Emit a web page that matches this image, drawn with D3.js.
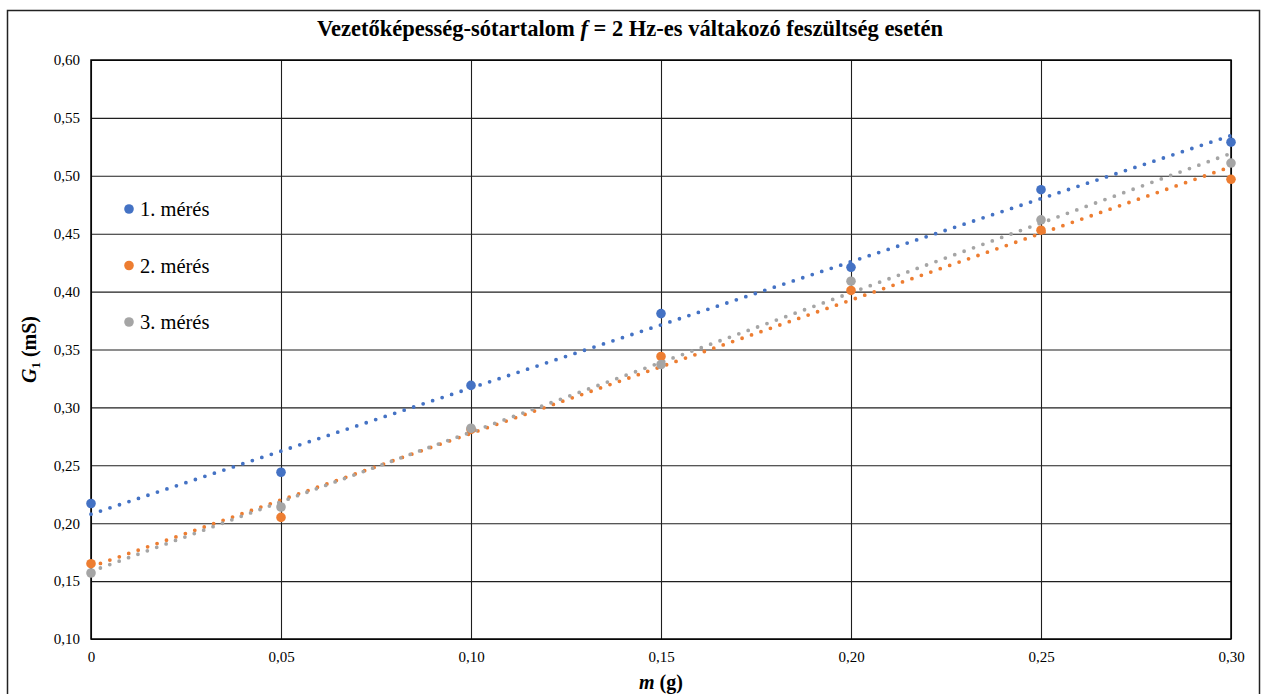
<!DOCTYPE html>
<html>
<head>
<meta charset="utf-8">
<script src="https://cdn.jsdelivr.net/npm/d3@7"></script>
<style>
  body { margin: 0; background: #fff; }
  svg text { font-family: "Liberation Serif", "Times New Roman", "DejaVu Serif", serif !important; fill: #000; }
</style>
</head>
<body>
<div id="chart"></div>
<script>
// data
var masses = [0, 0.05, 0.10, 0.15, 0.20, 0.25, 0.30];
var meres1 = [0.217, 0.244, 0.319, 0.381, 0.421, 0.488, 0.529];
var meres2 = [0.165, 0.205, 0.281, 0.344, 0.401, 0.453, 0.497];
var meres3 = [0.157, 0.214, 0.282, 0.337, 0.409, 0.462, 0.511];
var seriesNames = ["1. mérés", "2. mérés", "3. mérés"];
var seriesColors = ["#4472C4", "#ED7D31", "#A5A5A5"];
var xTicks = [0, 0.05, 0.10, 0.15, 0.20, 0.25, 0.30];
var yTicks = [0.10, 0.15, 0.20, 0.25, 0.30, 0.35, 0.40, 0.45, 0.50, 0.55, 0.60];

var svgWidth = 1261;
var svgHeight = 694;

var margin = { top: 60, right: 30, bottom: 55, left: 91 };
var width = svgWidth - margin.left - margin.right;
var height = svgHeight - margin.top - margin.bottom;

var svg = d3.select("#chart")
  .append("svg")
  .attr("width", svgWidth)
  .attr("height", svgHeight);

// outer frame
svg.append("rect")
  .attr("x", 7.5)
  .attr("y", 10.5)
  .attr("width", 1252)
  .attr("height", 700)
  .attr("fill", "none")
  .attr("stroke", "#222")
  .attr("stroke-width", 1.5);

var chartGroup = svg.append("g")
  .attr("transform", `translate(${margin.left}, ${margin.top})`);

var xScale = d3.scaleLinear().domain([0, 0.30]).range([0, width]);
var yScale = d3.scaleLinear().domain([0.10, 0.60]).range([height, 0]);

var locale = d3.formatLocale({ decimal: ",", thousands: " ", grouping: [3], currency: ["", ""] });
var fmt2 = locale.format(".2f");

// gridlines
chartGroup.append("g")
  .call(d3.axisLeft(yScale).tickValues(yTicks).tickSize(-width).tickFormat(""))
  .call(g => g.select(".domain").remove())
  .selectAll("line").attr("stroke", "#1f1f1f").attr("stroke-width", 1.1);

chartGroup.append("g")
  .attr("transform", `translate(0, ${height})`)
  .call(d3.axisBottom(xScale).tickValues(xTicks).tickSize(-height).tickFormat(""))
  .call(g => g.select(".domain").remove())
  .selectAll("line").attr("stroke", "#1f1f1f").attr("stroke-width", 1.1);

// plot border
chartGroup.append("rect")
  .attr("width", width)
  .attr("height", height)
  .attr("fill", "none")
  .attr("stroke", "#000")
  .attr("stroke-width", 1.5);

// tick labels
var yAxis = chartGroup.append("g")
  .call(d3.axisLeft(yScale).tickValues(yTicks).tickSize(0).tickPadding(11).tickFormat(fmt2));
yAxis.attr("font-family", null).attr("font-size", null);
yAxis.select(".domain").remove();
yAxis.selectAll("text").style("font-size", "15px");

var xAxis = chartGroup.append("g")
  .attr("transform", `translate(0, ${height})`)
  .call(d3.axisBottom(xScale).tickValues(xTicks).tickSize(0).tickPadding(12)
    .tickFormat(d => d === 0 ? "0" : fmt2(d)));
xAxis.attr("font-family", null).attr("font-size", null);
xAxis.select(".domain").remove();
xAxis.selectAll("text").style("font-size", "15px");

var series = [meres1, meres2, meres3].map(function(vals, i) {
  return {
    name: seriesNames[i],
    color: seriesColors[i],
    points: vals.map((v, j) => ({ x: masses[j], y: v }))
  };
});

// linear trendlines (least squares)
function linReg(points) {
  var mx = d3.mean(points, d => d.x);
  var my = d3.mean(points, d => d.y);
  var sxy = d3.sum(points, d => (d.x - mx) * (d.y - my));
  var sxx = d3.sum(points, d => (d.x - mx) * (d.x - mx));
  var slope = sxy / sxx;
  return { slope: slope, intercept: my - slope * mx };
}

var line = d3.line().x(d => xScale(d.x)).y(d => yScale(d.y));

series.forEach(function(s) {
  var r = linReg(s.points);
  var ends = xScale.domain().map(x => ({ x: x, y: r.intercept + r.slope * x }));
  chartGroup.append("path")
    .datum(ends)
    .attr("d", line)
    .attr("fill", "none")
    .attr("stroke", s.color)
    .attr("stroke-width", 3.8)
    .attr("stroke-linecap", "round")
    .attr("stroke-dasharray", "0 10");
});

series.forEach(function(s) {
  chartGroup.append("g")
    .selectAll("circle")
    .data(s.points)
    .enter()
    .append("circle")
    .attr("cx", d => xScale(d.x))
    .attr("cy", d => yScale(d.y))
    .attr("r", 4.8)
    .attr("fill", s.color);
});

// legend
var legend = chartGroup.append("g")
  .attr("transform", "translate(38, 149)");
series.forEach(function(s, i) {
  var row = legend.append("g").attr("transform", `translate(0, ${i * 56.5})`);
  row.append("circle").attr("r", 4.8).attr("fill", s.color);
  row.append("text")
    .attr("x", 11)
    .attr("dy", "0.35em")
    .style("font-size", "20.5px")
    .text(s.name);
});

// title
var title = svg.append("text")
  .attr("x", 630)
  .attr("y", 36)
  .attr("text-anchor", "middle")
  .style("font-size", "22.5px")
  .style("font-weight", "bold");
title.append("tspan").text("Vezetőképesség-sótartalom ");
title.append("tspan").style("font-style", "italic").text("f");
title.append("tspan").text(" = 2 Hz-es váltakozó feszültség esetén");

// x axis title
var xTitle = svg.append("text")
  .attr("x", margin.left + width / 2)
  .attr("y", 689)
  .attr("text-anchor", "middle")
  .style("font-size", "20px")
  .style("font-weight", "bold");
xTitle.append("tspan").style("font-style", "italic").text("m");
xTitle.append("tspan").text(" (g)");

// y axis title
var yTitle = svg.append("text")
  .attr("transform", `translate(36, ${margin.top + height / 2}) rotate(-90)`)
  .attr("text-anchor", "middle")
  .style("font-size", "20px")
  .style("font-weight", "bold");
yTitle.append("tspan").style("font-style", "italic").text("G");
yTitle.append("tspan").attr("dy", 4).style("font-size", "13px").text("1");
yTitle.append("tspan").attr("dy", -4).text(" (mS)");
</script>
</body>
</html>
